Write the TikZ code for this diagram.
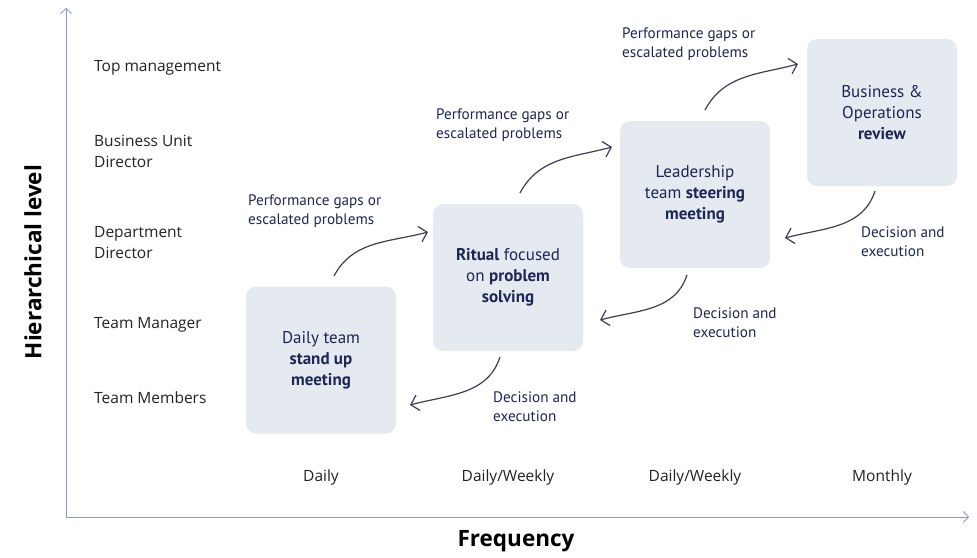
\documentclass[tikz,border=0pt]{standalone}
\usepackage{fontspec}
\setmainfont{PT Sans}
\newfontfamily\lvfont{Open Sans}
\usetikzlibrary{arrows.meta}
\definecolor{axisc}{HTML}{8C9AD4}
\definecolor{boxc}{HTML}{E4EAEF}
\definecolor{navy}{HTML}{1E2656}
\definecolor{arrc}{HTML}{3C3E5C}
\definecolor{lvc}{HTML}{222222}
\tikzset{
  stage/.style={fill=boxc, rounded corners=10pt, minimum width=150pt, minimum height=147pt, inner sep=0pt,
    text=navy, align=center, font=\fontsize{17}{21}\selectfont},
  lvl/.style={anchor=west, text=lvc, align=left, font=\lvfont\fontsize{15.5}{21}\selectfont, inner sep=0pt},
  freq/.style={text=lvc, font=\lvfont\fontsize{15.5}{19}\selectfont, inner sep=0pt},
  alab/.style={anchor=north west, text=navy, align=left, font=\fontsize{15.2}{18.5}\selectfont, inner sep=0pt},
  flow/.style={draw=arrc, line width=1.2pt, -{Straight Barb[length=7.5pt,width=16pt,line width=1.2pt]}},
  axis/.style={draw=axisc, line width=0.9pt, -{Straight Barb[length=5pt,width=11pt,line width=0.9pt]}},
  ttl/.style={text=black, font=\lvfont\bfseries\fontsize{22.5}{24}\selectfont, inner sep=0pt}
}
\begin{document}
\begin{tikzpicture}[x=1pt,y=1pt]
\useasboundingbox (0,0) rectangle (977,-557);
% axes
\coordinate (O) at (66,-517);
\coordinate (ytop) at (66,-8);
\coordinate (xend) at (969,-517);
\draw[axis] (O) -- (ytop);
\draw[axis] (O) -- (xend);
\node[ttl, rotate=90] (ylab) at (33,-262) {Hierarchical level};
\node[ttl] (xlab) at (516,-541) {Frequency};
% level labels
\node[lvl] (l1) at (94,-68) {Top management};
\node[lvl] (l2) at (94,-151.5) {Business Unit\\Director};
\node[lvl] (l3) at (94,-242.5) {Department\\Director};
\node[lvl] (l4) at (94,-325) {Team Manager};
\node[lvl] (l5) at (94,-398) {Team Members};
% frequency labels
\node[freq] (f1) at (321,-477) {Daily};
\node[freq] (f2) at (508,-477) {Daily/Weekly};
\node[freq] (f3) at (695,-477) {Daily/Weekly};
\node[freq] (f4) at (882,-477) {Monthly};
% boxes
\node[stage] (b1) at (321,-360) {Daily team\\\textbf{stand up}\\\textbf{meeting}};
\node[stage] (b2) at (508,-277.5) {\textbf{Ritual} focused\\on \textbf{problem}\\\textbf{solving}};
\node[stage] (b3) at (695,-194.5) {Leadership\\team \textbf{steering}\\\textbf{meeting}};
\node[stage] (b4) at (882,-112.5) {Business \&\\Operations\\\textbf{review}};
% arrow endpoints
\coordinate (u1s) at (334,-276);
\coordinate (u1e) at (428,-232);
\coordinate (u2s) at (520,-193);
\coordinate (u2e) at (612,-147);
\coordinate (u3s) at (705,-110);
\coordinate (u3e) at (798,-64);
\coordinate (d1s) at (500,-357);
\coordinate (d1e) at (410,-405);
\coordinate (d2s) at (687,-275);
\coordinate (d2e) at (600,-320);
\coordinate (d3s) at (875,-191);
\coordinate (d3e) at (785,-238);
% up arrows
\draw[flow] (u1s) to[out=62,in=195] (u1e);
\draw[flow] (u2s) to[out=62,in=195] (u2e);
\draw[flow] (u3s) to[out=62,in=195] (u3e);
% down arrows
\draw[flow] (d1s) to[out=-108,in=15] (d1e);
\draw[flow] (d2s) to[out=-108,in=15] (d2e);
\draw[flow] (d3s) to[out=-108,in=15] (d3e);
% arrow labels
\node[alab] (a1) at (248,-195) {Performance gaps or\\escalated problems};
\node[alab] (a2) at (436,-109) {Performance gaps or\\escalated problems};
\node[alab] (a3) at (622,-28) {Performance gaps or\\escalated problems};
\node[alab] (c1) at (493,-392) {Decision and\\execution};
\node[alab] (c2) at (693,-308) {Decision and\\execution};
\node[alab] (c3) at (861,-227) {Decision and\\execution};
\end{tikzpicture}
\end{document}
